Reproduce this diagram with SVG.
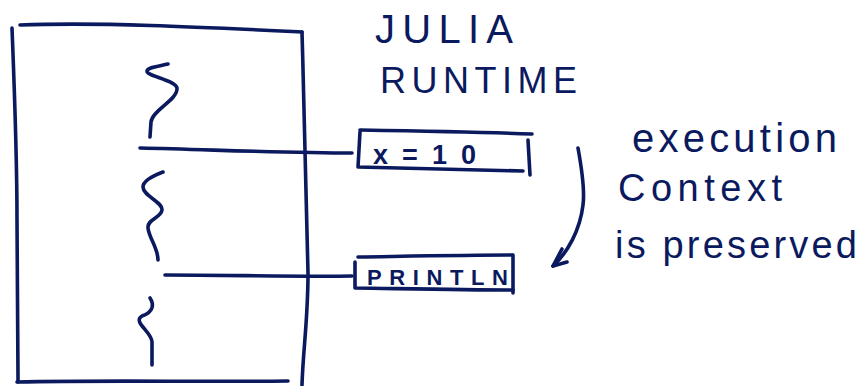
<svg xmlns="http://www.w3.org/2000/svg" width="862" height="386" viewBox="0 0 862 386">
  <style>
    .ink { fill: none; stroke: #0b1a5e; stroke-width: 3.6; stroke-linecap: round; stroke-linejoin: round; }
    .hand { fill: #0b1a5e; font-family: "Liberation Sans", Arial, sans-serif; }
  </style>
  <rect width="862" height="386" fill="#ffffff"/>

  <!-- call stack column with its wavy fragments -->
  <g id="stack">
    <path class="ink" d="M20,25 C100,22 200,27 302,32"/>
    <path class="ink" d="M12,28 C14,80 17,150 17,220 C17,300 18,340 18,382"/>
    <path class="ink" d="M302,32 C304,100 305,160 308,273 C308,320 303,350 302,385"/>
    <path class="ink" d="M17,382 C100,380 200,382 288,381"/>
    <path class="ink" d="M168,64 C160,66 148,67 147,71 C146,76 176,80 177,88 C178,100 152,110 151,122 L150,137"/>
    <path class="ink" d="M163,172 C155,175 143,180 143,187 C143,196 163,202 162,210 C161,218 147,219 148,228 C149,238 158,248 158,260"/>
    <path class="ink" d="M150,298 C154,304 154,312 142,316 C132,322 152,332 152,342 L152,365"/>
  </g>

  <!-- runtime title -->
  <g id="runtime-title">
    <text class="hand" x="375" y="43" font-size="40" textLength="138" lengthAdjust="spacing">JULIA</text>
    <text class="hand" x="380" y="93" font-size="36" textLength="197" lengthAdjust="spacing">RUNTIME</text>
  </g>

  <!-- stored assignment -->
  <g id="assign">
    <path class="ink" d="M360,130 C420,131 480,132 532,134"/>
    <path class="ink" d="M360,132 L358,167 C420,168 480,170 523,171"/>
    <path class="ink" d="M528,140 L530,175"/>
    <text class="hand" x="373" y="164" font-size="27" font-weight="bold" textLength="103" lengthAdjust="spacing">x=10</text>
  </g>

  <!-- stored print call -->
  <g id="println">
    <path class="ink" d="M358,257 C420,256 470,255 512,255"/>
    <path class="ink" d="M355,262 L355,288 C420,289 470,290 513,290"/>
    <path class="ink" d="M513,255 L513,293"/>
    <text class="hand" x="367" y="285" font-size="22" font-weight="bold" textLength="141" lengthAdjust="spacing">PRINTLN</text>
  </g>

  <!-- side note -->
  <g id="note">
    <text class="hand" x="632" y="152" font-size="40" textLength="205" lengthAdjust="spacing">execution</text>
    <text class="hand" x="618" y="201" font-size="38" textLength="164" lengthAdjust="spacing">Context</text>
    <text class="hand" x="615" y="258" font-size="38" textLength="242" lengthAdjust="spacing">is preserved</text>
  </g>

  <!-- connectors -->
  <g id="connectors">
    <path class="ink" d="M140,148 C220,150 290,153 352,153"/>
    <path class="ink" d="M165,275 C230,275 300,277 352,276"/>
    <path class="ink" d="M578,148 C582,170 585,190 583,205 C580,230 568,252 553,266"/>
    <path class="ink" d="M562,249 L553,266 L567,262"/>
  </g>
</svg>
